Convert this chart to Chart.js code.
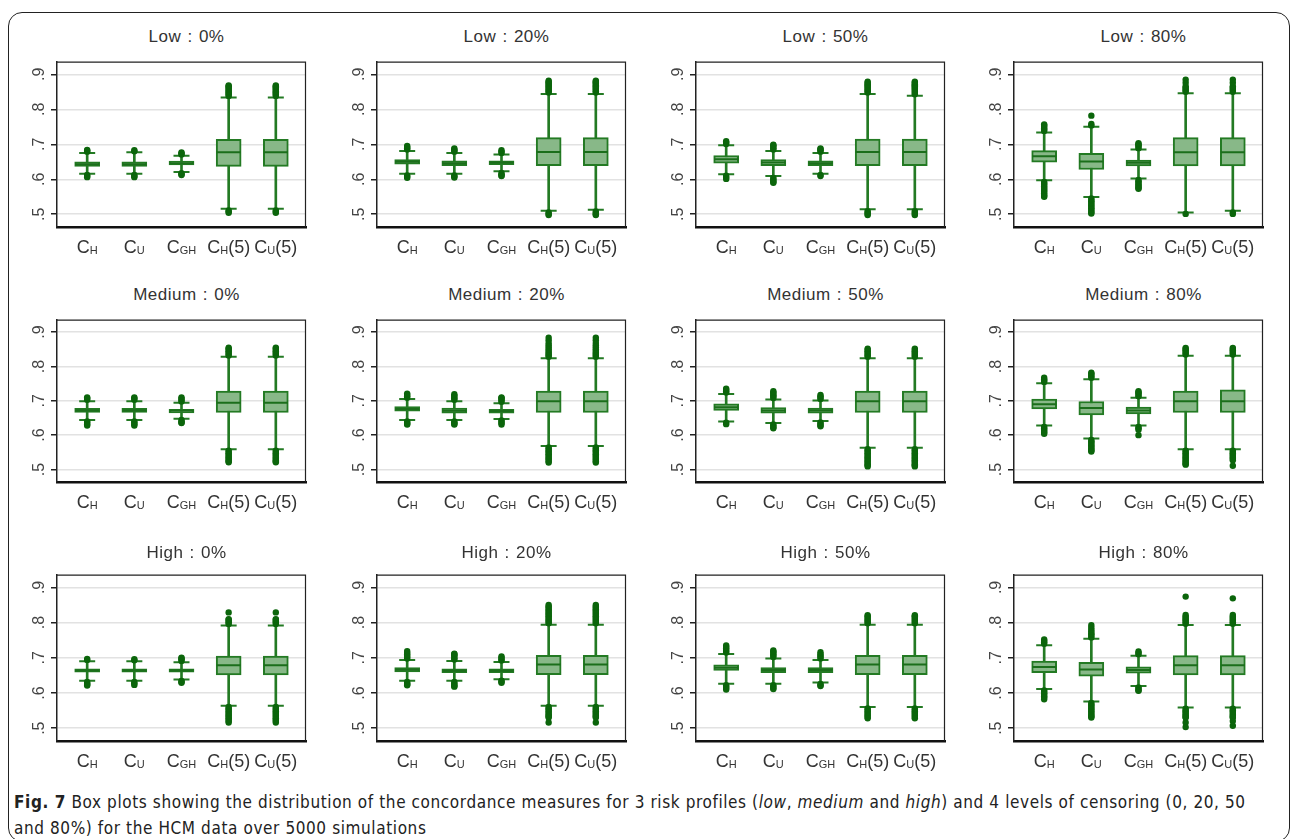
<!DOCTYPE html>
<html><head><meta charset="utf-8">
<script src="https://cdn.jsdelivr.net/npm/chart.js@4/dist/chart.umd.min.js"></script>
<style>
html,body{margin:0;padding:0;background:#fff;}
body{width:1292px;height:839px;position:relative;overflow:hidden;font-family:"Liberation Sans",Arial,sans-serif;}
#frame{position:absolute;left:8px;top:12px;width:1282px;height:830px;border:1.5px solid #222;border-radius:14px;box-sizing:border-box;}
.title{position:absolute;width:259px;text-align:center;font-size:17px;letter-spacing:0.5px;word-spacing:1px;color:#333;line-height:20px;white-space:nowrap;}
canvas.panel{position:absolute;}
#caption{position:absolute;left:14px;top:789px;font-family:"DejaVu Sans Condensed","Liberation Sans Narrow",sans-serif;font-size:17px;letter-spacing:0.6px;line-height:26px;color:#222;white-space:nowrap;}
</style></head><body>
<div id="frame"></div>
<div id="caption"><b>Fig. 7</b> Box plots showing the distribution of the concordance measures for 3 risk profiles (<i>low</i>, <i>medium</i> and <i>high</i>) and 4 levels of censoring (0, 20, 50<br>and 80%) for the HCM data over 5000 simulations</div>
<script>
// ---------- DATA ----------
const riskProfiles = ['Low', 'Medium', 'High'];
const censoringLevels = ['0%', '20%', '50%', '80%'];
// measure labels: [main, subscript, suffix]
const measures = [['C','H',''], ['C','U',''], ['C','GH',''], ['C','H','(5)'], ['C','U','(5)']];
const yTicks = [0.5, 0.6, 0.7, 0.8, 0.9];
const yTickLabels = ['.5', '.6', '.7', '.8', '.9'];

// panels in reading order: Low 0/20/50/80, Medium 0/20/50/80, High 0/20/50/80
// columns: C_H, C_U, C_GH, C_H(5), C_U(5)
const lowerWhisker = [
  [.616,.616,.621,.516,.516],[.616,.616,.623,.510,.513],[.614,.609,.616,.514,.514],[.597,.549,.602,.505,.510],
  [.644,.644,.648,.559,.559],[.644,.644,.647,.568,.568],[.640,.635,.641,.563,.563],[.628,.590,.628,.559,.559],
  [.635,.635,.638,.564,.564],[.635,.635,.639,.564,.564],[.626,.626,.630,.560,.560],[.611,.576,.620,.559,.559]
];
const q1 = [
  [.637,.637,.641,.637,.637],[.643,.639,.642,.639,.639],[.646,.639,.639,.639,.639],[.649,.628,.638,.638,.638],
  [.666,.666,.665,.666,.666],[.670,.664,.664,.666,.666],[.672,.664,.664,.666,.666],[.676,.659,.662,.666,.666],
  [.659,.659,.659,.651,.651],[.660,.658,.658,.652,.652],[.664,.658,.658,.652,.652],[.658,.648,.656,.651,.651]
];
const median = [
  [.643,.643,.646,.677,.677],[.650,.646,.648,.678,.678],[.657,.648,.646,.678,.678],[.666,.651,.647,.677,.677],
  [.672,.672,.671,.694,.694],[.676,.671,.670,.699,.699],[.681,.672,.672,.699,.699],[.690,.679,.672,.699,.699],
  [.664,.664,.664,.679,.679],[.666,.663,.663,.681,.681],[.672,.665,.665,.681,.681],[.674,.667,.665,.679,.679]
];
const q3 = [
  [.650,.650,.652,.714,.714],[.656,.653,.653,.719,.719],[.668,.656,.653,.715,.715],[.682,.674,.655,.719,.719],
  [.678,.678,.675,.728,.728],[.683,.679,.675,.728,.728],[.691,.680,.679,.728,.728],[.705,.698,.682,.728,.732],
  [.669,.669,.669,.705,.705],[.672,.669,.669,.707,.707],[.680,.672,.672,.707,.707],[.691,.687,.674,.706,.706]
];
const upperWhisker = [
  [.675,.677,.667,.834,.834],[.681,.675,.671,.844,.844],[.697,.681,.675,.844,.839],[.734,.750,.685,.846,.846],
  [.699,.699,.694,.828,.828],[.705,.699,.693,.824,.824],[.720,.704,.701,.824,.824],[.751,.763,.709,.831,.831],
  [.690,.690,.687,.792,.792],[.694,.691,.688,.794,.794],[.711,.698,.694,.794,.794],[.736,.754,.706,.793,.793]
];
const outliers = [
  [ // Low 0%
    [.679,.682,.684,.612,.609,.606],
    [.680,.683,.612,.609,.606],
    [.671,.674,.677,.617,.614,.612],
    [.838,.842,.845,.849,.852,.856,.859,.863,.866,.868,.511,.507,.504],
    [.838,.842,.845,.849,.852,.856,.859,.863,.866,.868,.511,.507,.504]
  ],
  [ // Low 20%
    [.685,.689,.692,.695,.611,.607,.604],
    [.679,.682,.685,.688,.611,.608,.605],
    [.675,.679,.683,.618,.614,.611,.609],
    [.848,.852,.855,.859,.862,.866,.869,.873,.876,.879,.882,.505,.501,.498],
    [.848,.852,.855,.859,.862,.866,.869,.873,.876,.879,.882,.508,.504,.500,.498]
  ],
  [ // Low 50%
    [.701,.705,.709,.610,.605,.601],
    [.685,.689,.693,.697,.699,.604,.600,.596,.592,.590],
    [.679,.683,.686,.688,.612,.609],
    [.848,.852,.855,.859,.862,.866,.869,.872,.876,.879,.509,.505,.501,.498],
    [.843,.847,.851,.855,.859,.862,.866,.869,.872,.876,.879,.509,.505,.501,.498]
  ],
  [ // Low 80%
    [.738,.742,.746,.750,.754,.757,.592,.588,.584,.580,.576,.572,.568,.564,.560,.556,.552,.550],
    [.754,.758,.782,.545,.541,.537,.533,.529,.525,.521,.517,.513,.509,.505,.502],
    [.689,.693,.697,.700,.703,.598,.594,.590,.586,.582,.578,.575,.573],
    [.850,.854,.858,.862,.866,.876,.885,.501],
    [.850,.854,.858,.862,.866,.876,.885,.505,.501]
  ],
  [ // Medium 0%
    [.703,.707,.710,.640,.636,.632,.628],
    [.703,.707,.710,.640,.636,.632,.628],
    [.698,.702,.706,.710,.644,.640,.637,.635],
    [.832,.836,.840,.844,.848,.852,.855,.555,.551,.547,.543,.539,.535,.531,.527,.524,.521],
    [.832,.836,.840,.844,.848,.852,.855,.555,.551,.547,.543,.539,.535,.531,.527,.524,.521]
  ],
  [ // Medium 20%
    [.709,.713,.717,.721,.640,.636,.633,.631],
    [.703,.707,.711,.715,.719,.640,.636,.633,.631],
    [.697,.701,.705,.708,.710,.643,.639,.635,.631],
    [.828,.832,.836,.840,.845,.850,.856,.862,.868,.876,.884,.564,.560,.556,.552,.548,.544,.540,.536,.532,.528,.524,.520],
    [.828,.832,.836,.840,.845,.850,.856,.862,.868,.876,.884,.564,.560,.556,.552,.548,.544,.540,.536,.532,.528,.524,.520]
  ],
  [ // Medium 50%
    [.724,.728,.732,.735,.636,.632],
    [.708,.712,.716,.720,.724,.728,.631,.627,.623,.620],
    [.705,.709,.713,.717,.637,.633,.629,.626],
    [.828,.832,.836,.840,.844,.848,.852,.559,.555,.551,.547,.543,.539,.535,.531,.527,.523,.519,.515,.512,.509],
    [.828,.832,.836,.840,.844,.848,.852,.559,.555,.551,.547,.543,.539,.535,.531,.527,.523,.519,.515,.512,.509]
  ],
  [ // Medium 80%
    [.755,.759,.763,.767,.624,.620,.616,.612,.608,.604],
    [.767,.771,.775,.779,.782,.586,.582,.578,.574,.570,.566,.562,.558,.555,.552],
    [.713,.717,.721,.725,.728,.624,.620,.616,.600],
    [.835,.839,.843,.847,.851,.854,.555,.551,.547,.543,.539,.535,.531,.527,.523,.519,.516,.514],
    [.835,.839,.843,.847,.851,.854,.555,.551,.547,.543,.539,.535,.531,.527,.511]
  ],
  [ // High 0%
    [.694,.697,.631,.627,.624,.621],
    [.693,.696,.631,.627,.623],
    [.691,.695,.698,.700,.634,.631,.629],
    [.796,.800,.804,.808,.810,.829,.560,.556,.552,.548,.544,.540,.536,.532,.528,.524,.520,.516],
    [.796,.800,.804,.808,.810,.829,.560,.556,.552,.548,.544,.540,.536,.532,.528,.524,.520,.516]
  ],
  [ // High 20%
    [.698,.702,.706,.710,.714,.719,.631,.627,.624,.622],
    [.695,.699,.703,.707,.710,.712,.631,.627,.623,.620,.618],
    [.692,.696,.700,.704,.635,.632,.629],
    [.798,.802,.806,.810,.814,.818,.822,.826,.830,.834,.838,.842,.846,.850,.560,.556,.552,.548,.544,.540,.536,.533,.530,.516],
    [.798,.802,.806,.810,.814,.818,.822,.826,.830,.834,.838,.842,.846,.850,.560,.556,.552,.548,.544,.540,.536,.533,.530,.516]
  ],
  [ // High 50%
    [.715,.719,.723,.727,.731,.735,.622,.618,.614,.610],
    [.702,.706,.710,.714,.718,.721,.622,.618,.614,.611],
    [.698,.702,.706,.710,.716,.626,.622,.620],
    [.798,.802,.806,.810,.814,.818,.821,.556,.552,.548,.544,.540,.536,.532,.528],
    [.798,.802,.806,.810,.814,.818,.821,.556,.552,.548,.544,.540,.536,.532,.528]
  ],
  [ // High 80%
    [.740,.744,.748,.752,.607,.603,.599,.595,.591,.587,.582],
    [.758,.762,.766,.770,.775,.780,.786,.793,.572,.568,.564,.560,.556,.552,.548,.544,.540,.536,.533,.530],
    [.710,.714,.718,.616,.612,.608,.606],
    [.797,.801,.805,.809,.813,.817,.822,.874,.555,.551,.547,.543,.539,.535,.532,.530,.516,.503],
    [.797,.801,.805,.809,.813,.817,.822,.869,.555,.551,.547,.543,.539,.535,.532,.530,.520,.507]
  ]
];

// ---------- LAYOUT / STYLE ----------
const plotLefts = [57, 377, 696, 1014];
const plotTops = [51, 309, 564];
const plotBottoms = [227, 482, 741];
const titleCenters = [37, 295, 553];
const PLOT_W = 259;
const BOX_FILL = '#88b888';
const LINE_GREEN = '#237a23';
const DOT_GREEN = '#0b650b';
const FONT = '"Liberation Sans", Arial, sans-serif';
Chart.defaults.font.family = FONT;

const framePlugin = {
  id: 'frameBox',
  afterDraw(chart) {
    const {ctx, chartArea: a} = chart;
    ctx.save();
    ctx.strokeStyle = '#222';
    ctx.lineWidth = 1.2;
    ctx.beginPath();
    ctx.moveTo(a.left, a.top + 0.5);
    ctx.lineTo(a.right - 0.5, a.top + 0.5);
    ctx.lineTo(a.right - 0.5, a.bottom);
    ctx.stroke();
    ctx.restore();
  }
};
const xLabelPlugin = {
  id: 'xLabels',
  afterDraw(chart) {
    const {ctx, chartArea, scales: {x}} = chart;
    const big = '18px ' + FONT, small = '11px ' + FONT;
    ctx.save();
    ctx.fillStyle = '#333';
    ctx.textBaseline = 'alphabetic';
    ctx.textAlign = 'left';
    measures.forEach((m, i) => {
      ctx.font = big;
      const w1 = ctx.measureText(m[0]).width, w3 = ctx.measureText(m[2]).width;
      ctx.font = small;
      const w2 = ctx.measureText(m[1]).width;
      let px = x.getPixelForValue(i) - (w1 + w2 + w3) / 2;
      const base = chartArea.bottom + 26;
      ctx.font = big; ctx.fillText(m[0], px, base); px += w1;
      ctx.font = small; ctx.fillText(m[1], px, base + 0.5); px += w2;
      ctx.font = big; ctx.fillText(m[2], px, base);
    });
    ctx.restore();
  }
};

function makePanel(p) {
  const r = Math.floor(p / 4), c = p % 4;
  const L = 55, R = 4, T = 4, B = 34;
  const ph = plotBottoms[r] - plotTops[r];
  const cv = document.createElement('canvas');
  cv.className = 'panel';
  cv.width = L + PLOT_W + R; cv.height = T + ph + B;
  cv.style.width = cv.width + 'px'; cv.style.height = cv.height + 'px';
  cv.style.left = (plotLefts[c] - L) + 'px';
  cv.style.top = (plotTops[r] - T) + 'px';
  document.body.appendChild(cv);

  const t = document.createElement('div');
  t.className = 'title';
  t.textContent = riskProfiles[r] + ' : ' + censoringLevels[c];
  t.style.left = plotLefts[c] + 'px';
  t.style.top = (titleCenters[r] - 10) + 'px';
  document.body.appendChild(t);

  const idx = measures.map((m, i) => i);
  const whiskers = idx.map(i => ({x: i, y: [lowerWhisker[p][i], upperWhisker[p][i]]}));
  const boxes = idx.map(i => ({x: i, y: [q1[p][i], q3[p][i]]}));
  const medians = idx.map(i => ({x: i, y: median[p][i]}));
  const caps = [];
  idx.forEach(i => { caps.push({x: i, y: lowerWhisker[p][i]}); caps.push({x: i, y: upperWhisker[p][i]}); });
  const dots = [];
  idx.forEach(i => outliers[p][i].forEach(v => dots.push({x: i, y: v})));

  new Chart(cv, {
    type: 'bar',
    data: {
      datasets: [
        {type: 'bar', data: whiskers, grouped: false, barThickness: 2, backgroundColor: LINE_GREEN, borderWidth: 0, order: 5},
        {type: 'bar', data: boxes, grouped: false, barThickness: 25, backgroundColor: BOX_FILL, borderColor: LINE_GREEN, borderWidth: 2, borderSkipped: false, order: 4},
        {type: 'scatter', data: medians, pointStyle: 'line', pointRadius: 12, borderColor: '#1b6e1b', borderWidth: 2, order: 3},
        {type: 'scatter', data: caps, pointStyle: 'line', pointRadius: 8, borderColor: LINE_GREEN, borderWidth: 2, order: 2},
        {type: 'scatter', data: dots, pointStyle: 'circle', pointRadius: 3.2, backgroundColor: DOT_GREEN, borderColor: DOT_GREEN, borderWidth: 0, order: 1}
      ]
    },
    options: {
      responsive: false, animation: false, devicePixelRatio: 1,
      events: [],
      layout: {padding: {top: T, right: R, left: 0, bottom: 0}},
      plugins: {legend: {display: false}, tooltip: {enabled: false}, title: {display: false}},
      scales: {
        x: {
          type: 'linear', min: -0.64, max: 4.64, offset: false,
          grid: {display: true, color: 'rgba(0,0,0,0)', drawTicks: false},
          ticks: {display: false},
          border: {display: true, color: '#111', width: 2.5},
          afterFit(s) { s.height = B; }
        },
        y: {
          type: 'linear', min: 0.4635, max: 0.9365,
          afterBuildTicks(s) { s.ticks = yTicks.map(v => ({value: v})); },
          ticks: {
            callback: (v, i) => yTickLabels[i],
            minRotation: 90, maxRotation: 90, crossAlign: 'center', padding: 5,
            font: {size: 16}, color: '#444'
          },
          grid: {color: '#e2e2e2', lineWidth: 1.5, tickColor: '#222', tickLength: 6, drawTicks: true},
          border: {display: true, color: '#222', width: 1.5},
          afterFit(s) { s.width = L; }
        }
      }
    },
    plugins: [framePlugin, xLabelPlugin]
  });
}
for (let p = 0; p < 12; p++) makePanel(p);
</script>
</body></html>
